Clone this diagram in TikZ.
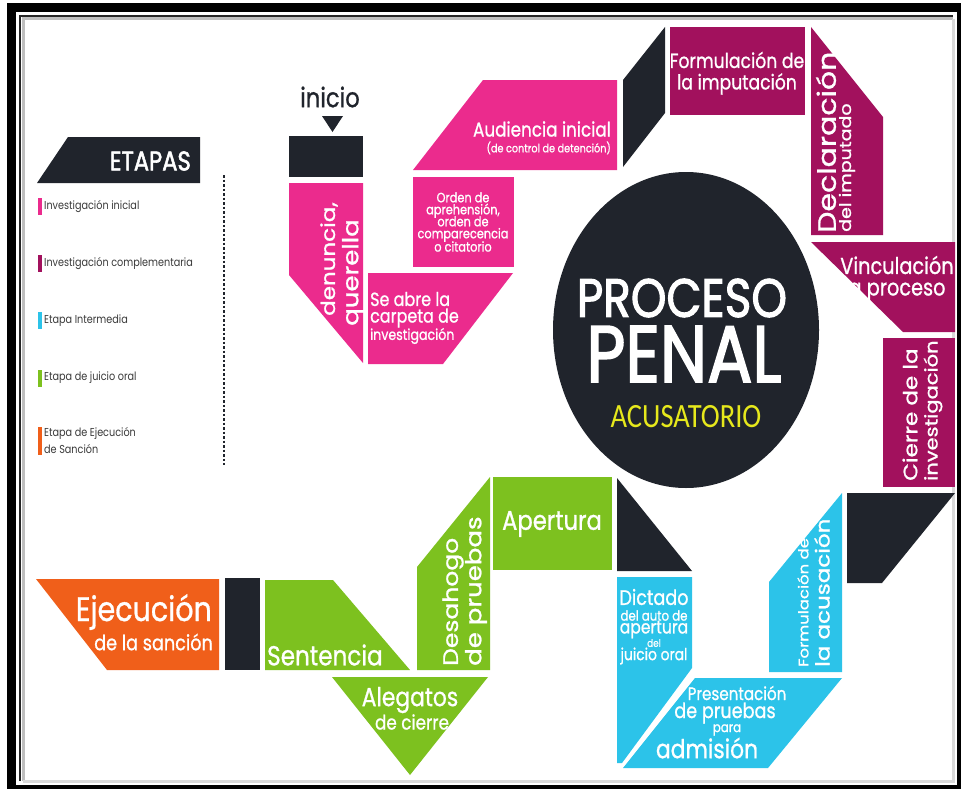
\documentclass[tikz,border=0pt]{standalone}
\usepackage{fontspec}
\setmainfont{Poppins}[FakeBold=1]
\newfontfamily\titlefont{Poppins}[FakeBold=2.2]
\newfontfamily\legfont{Poppins}
\newfontfamily\calfont{Carlito}
\definecolor{pk}{HTML}{EB2B8D}
\definecolor{pu}{HTML}{A2115D}
\definecolor{cy}{HTML}{2CC3E9}
\definecolor{gr}{HTML}{7DC11F}
\definecolor{orn}{HTML}{F05F1A}
\definecolor{dk}{HTML}{20242C}
\definecolor{yl}{HTML}{E6E81C}
\definecolor{lg}{HTML}{3A3A3A}
\newcommand\fs[1]{\fontsize{#1}{#1}\selectfont}
\begin{document}
\begin{tikzpicture}[x=1pt,y=-1pt,
  sq/.style={xscale=0.84, inner sep=0pt, text=white},
  sqr/.style={xscale=0.84, rotate=90, inner sep=0pt, text=white, anchor=west},
  legtext/.style={xscale=0.84, inner sep=0pt, text=lg, anchor=west, align=left, font=\legfont\fs{11.5}}]
\useasboundingbox (0,0) rectangle (963,792);
\fill[white] (0,0) rectangle (963,792);
% frame
\fill[black] (7,3) rectangle (16,789);
\fill[black] (7,3) rectangle (961,12);
\fill[black] (7,785) rectangle (961,789);
\fill[black] (957,3) rectangle (961,789);
\draw[line width=1.5pt, black!85] (20,781) -- (20,16) -- (953,16);
\draw[line width=3pt, black!25] (23,781) -- (23,19) -- (953,19);
\draw[line width=3pt, black!15] (953,19) -- (953,781) -- (23,781);

% legend
\fill[dk] (68,137) -- (200,137) -- (200,183) -- (37,183) -- cycle;
\node[sq, anchor=east, font=\titlefont\fs{27}] (etapas) at (191,161) {ETAPAS};
\draw[line width=1.6pt, dk, dash pattern=on 2.5pt off 2pt] (224,175) -- (224,465);
\fill[pk] (38,198) rectangle (42,215);
\node[legtext] (l1) at (44,207) {Investigación inicial};
\fill[pu] (38,255) rectangle (42,272);
\node[legtext] (l2) at (44,264) {Investigación complementaria};
\fill[cy] (38,312) rectangle (42,329);
\node[legtext] (l3) at (44,321) {Etapa Intermedia};
\fill[gr] (38,370) rectangle (42,387);
\node[legtext] (l4) at (44,378) {Etapa de juicio oral};
\fill[orn] (38,427) rectangle (42,455);
\node[legtext] (l5) at (44,433) {Etapa de Ejecución};
\node[legtext] (l5b) at (44,449) {de Sanción};

% inicio
\node[sq, text=dk, font=\fs{27}] (inicio) at (330,97) {inicio};
\fill[dk] (322,116) -- (343,116) -- (332.5,132) -- cycle;
\fill[dk] (289,136) rectangle (363,177);

% pink
\fill[pk] (289,183) -- (363,183) -- (363,363) -- (289,275) -- cycle;
\node[sqr, font=\fs{23}] (denuncia) at (329,316) {denuncia,};
\node[sqr, font=\fs{26}] (querella) at (353,326) {querella};
\fill[pk] (368,273) -- (513,273) -- (443,364) -- (368,364) -- cycle;
\node[sq, anchor=west, font=\fs{19}] (carp1) at (370,299) {Se abre la};
\node[sq, anchor=west, font=\fs{19}] (carp2) at (370,318) {carpeta de};
\node[sq, anchor=west, font=\fs{15}] (carp3) at (370,336) {investigación};
\fill[pk] (413,177) rectangle (514,267);
\node[sq, align=center, font=\fs{13.5}] (orden) at (463,222) {Orden de\\[-1.5pt]aprehensión,\\[-1.5pt]orden de\\[-1.5pt]comparecencia\\[-1.5pt]o citatorio};
\fill[pk] (483,80) -- (617,80) -- (617,170) -- (413,170) -- cycle;
\node[sq, anchor=east, font=\fs{20}] (audiencia) at (611,129) {Audiencia inicial};
\node[sq, anchor=east, font=\fs{11.5}] (control) at (611,148) {(de control de detención)};

% black parallelogram
\fill[dk] (665,27) -- (665,113) -- (623,167) -- (623,80) -- cycle;

% purple
\fill[pu] (670,27) rectangle (805,115);
\node[sq, font=\fs{20.5}] (form1) at (737,60) {Formulación de};
\node[sq, font=\fs{20.5}] (form2) at (737,84) {la imputación};
\fill[pu] (811,27) -- (883,117) -- (883,235) -- (811,235) -- cycle;
\node[sqr, font=\fs{30}] (decl1) at (826,233) {Declaración};
\node[sqr, font=\fs{19}] (decl2) at (847,232) {del imputado};
\fill[pu] (811,242) -- (955,242) -- (955,332) -- (903,332) -- cycle;
\node[sq, font=\fs{23}] (vinc1) at (897,265) {Vinculación};
\node[sq, font=\fs{23}] (vinc2) at (897,292) {a proceso};
\fill[pu] (883,338) rectangle (955,487);
\node[sqr, font=\fs{23}] (cierre1) at (910,481) {Cierre de la};
\node[sqr, font=\fs{21}] (cierre2) at (933,481) {investigación};

% circle
\fill[dk] (686,330) ellipse [x radius=133, y radius=158];
\node[sq, font=\titlefont\fs{54}] (proceso) at (682,298) {PROCESO};
\node[sq, font=\titlefont\fs{80}] (penal) at (684,354) {PENAL};
\node[sq, text=yl, font=\calfont\fs{34}] (acus) at (686,417) {ACUSATORIO};

% right black trapezoid
\fill[dk] (847,493) -- (955,493) -- (882,583) -- (847,583) -- cycle;

% cyan
\fill[cy] (842,493) -- (842,672) -- (769,672) -- (769,582) -- cycle;
\node[sqr, font=\fs{16.5}] (formacu1) at (803,667) {Formulación de};
\node[sqr, font=\fs{23}] (formacu2) at (822,667) {la acusación};
\fill[cy] (695,678) -- (842,678) -- (768,768) -- (623,768) -- cycle;
\node[sq, font=\fs{18}] (pres1) at (737,693) {Presentación};
\node[sq, font=\fs{21}] (pres2) at (725,713) {de pruebas};
\node[sq, font=\fs{14}] (pres3) at (727,730) {para};
\node[sq, font=\fs{26}] (pres4) at (707,748) {admisión};
\fill[cy] (617,577) -- (692,577) -- (692,668) -- (622,763) -- (617,763) -- cycle;
\node[sq, font=\fs{21}] (dict1) at (654,597) {Dictado};
\node[sq, font=\fs{14}] (dict2) at (654,615.5) {del auto de};
\node[sq, font=\fs{18.5}] (dict3) at (654,629.5) {apertura};
\node[sq, font=\fs{10.5}] (dict4) at (654,643) {del};
\node[sq, font=\fs{16.5}] (dict5) at (654,656) {juicio oral};

% black triangle
\fill[dk] (617,478) -- (692,571) -- (617,571) -- cycle;

% green
\fill[gr] (493,477) rectangle (612,570);
\node[sq, font=\fs{27}] (apertura) at (552,524) {Apertura};
\fill[gr] (490,477) -- (490,670) -- (417,670) -- (417,567) -- cycle;
\node[sqr, font=\fs{25}] (desa1) at (453,666) {Desahogo};
\node[sqr, font=\fs{26}] (desa2) at (476,666) {de pruebas};
\fill[gr] (332,677) -- (488,677) -- (410,775) -- cycle;
\node[sq, font=\fs{26}] (alegatos) at (410,700) {Alegatos};
\node[sq, font=\fs{20}] (cierreal) at (412,722) {de cierre};
\fill[gr] (265,580) -- (333,580) -- (410,670) -- (265,670) -- cycle;
\node[sq, anchor=west, font=\fs{27.5}] (sentencia) at (267,655) {Sentencia};
\fill[dk] (225,578) rectangle (260,670);
\fill[orn] (36,579) -- (219,579) -- (219,670) -- (107,670) -- cycle;
\node[sq, anchor=east, font=\fs{34}] (ejecucion) at (212,612) {Ejecución};
\node[sq, anchor=east, font=\fs{21}] (sancion) at (213,642) {de la sanción};
\end{tikzpicture}
\end{document}
